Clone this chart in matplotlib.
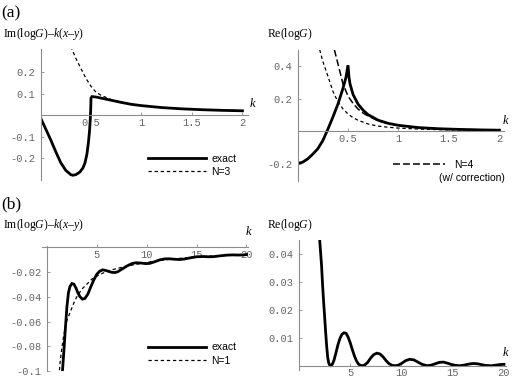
import matplotlib
matplotlib.use('Agg')
import matplotlib.pyplot as plt
from matplotlib.lines import Line2D

plt.rcParams['axes.unicode_minus'] = False
plt.rcParams['lines.scale_dashes'] = False
plt.rcParams['mathtext.fontset'] = 'custom'
plt.rcParams['mathtext.rm'] = 'Liberation Serif'
plt.rcParams['mathtext.it'] = 'Liberation Serif:italic'

# (a) left: Im(logG) - k(x-y)
a_im_k = [0.0, 0.05, 0.1, 0.15, 0.2, 0.25, 0.3, 0.32, 0.35, 0.39, 0.42, 0.44, 0.46, 0.475,
          0.485, 0.493, 0.498, 0.5, 0.51, 0.55, 0.6, 0.7, 0.8, 0.9, 1.0, 1.2, 1.4, 1.6, 1.8, 2.0]
a_im_exact = [-0.011, -0.062, -0.113, -0.168, -0.220, -0.256, -0.276, -0.279, -0.276, -0.264,
              -0.245, -0.222, -0.180, -0.125, -0.075, -0.020, 0.040, 0.080, 0.087, 0.085,
              0.080, 0.070, 0.060, 0.051, 0.045, 0.036, 0.030, 0.026, 0.023, 0.021]
a_im_n3_k = [0.3, 0.35, 0.4, 0.45, 0.5, 0.55, 0.6, 0.65, 0.7, 0.8, 0.9, 1.0, 1.2, 1.5, 2.0]
a_im_n3 = [0.32, 0.265, 0.218, 0.172, 0.135, 0.107, 0.093, 0.083, 0.073, 0.061, 0.052, 0.045,
           0.036, 0.028, 0.021]

# (a) right: Re(logG)
a_re_k = [0.0, 0.05, 0.1, 0.15, 0.2, 0.25, 0.3, 0.35, 0.4, 0.45, 0.48, 0.5, 0.51, 0.52, 0.55,
          0.6, 0.65, 0.7, 0.8, 0.9, 1.0, 1.2, 1.4, 1.6, 1.8, 2.0]
a_re_exact = [-0.200, -0.192, -0.172, -0.143, -0.110, -0.060, 0.010, 0.085, 0.165, 0.262, 0.330,
              0.405, 0.330, 0.290, 0.225, 0.165, 0.128, 0.100, 0.066, 0.047, 0.035, 0.021, 0.014,
              0.010, 0.007, 0.005]
a_re_n3_k = [0.22, 0.25, 0.3, 0.35, 0.4, 0.45, 0.5, 0.55, 0.6, 0.7, 0.8, 0.9, 1.0, 1.2, 1.5, 2.0]
a_re_n3 = [0.50, 0.43, 0.34, 0.245, 0.18, 0.136, 0.105, 0.082, 0.066, 0.043, 0.030, 0.023, 0.018,
           0.012, 0.007, 0.004]
a_re_n4_k = [0.365, 0.4, 0.45, 0.5, 0.55, 0.6, 0.65, 0.7, 0.8, 0.9, 1.0, 1.2, 1.5, 2.0]
a_re_n4 = [0.50, 0.415, 0.29, 0.215, 0.17, 0.135, 0.11, 0.092, 0.063, 0.046, 0.034, 0.020, 0.011,
           0.005]

# (b) left: Im(logG) - k(x-y), large k
b_im_k = [1.5, 1.55, 1.7, 1.85, 2.0, 2.15, 2.3, 2.5, 2.7, 2.9, 3.1, 3.3, 3.55, 3.8, 4.1, 4.4, 4.7,
          5.0, 5.3, 5.6, 5.9, 6.2, 6.5, 6.8, 7.1, 7.5, 8.0, 8.5, 8.9, 9.4, 9.9, 10.3, 10.8, 11.3,
          11.8, 12.3, 12.8, 13.3, 13.8, 14.4, 15.0, 15.6, 16.2, 16.7, 17.3, 18.0, 18.6, 19.2,
          19.7, 20.0]
b_im_exact = [-0.106, -0.100, -0.083, -0.065, -0.048, -0.037, -0.032, -0.0295, -0.030, -0.033,
              -0.037, -0.040, -0.042, -0.0415, -0.038, -0.032, -0.0265, -0.022, -0.0195, -0.0185,
              -0.019, -0.0198, -0.0205, -0.0207, -0.020, -0.018, -0.0155, -0.0135, -0.0128,
              -0.013, -0.0135, -0.0133, -0.012, -0.0105, -0.0097, -0.0096, -0.0100, -0.0102,
              -0.0098, -0.0088, -0.0080, -0.0078, -0.0080, -0.0079, -0.0073, -0.0067, -0.0065,
              -0.0066, -0.0065, -0.0062]
b_im_n1_k = [1.2, 1.3, 1.45, 1.6, 1.8, 2.0, 2.25, 2.5, 2.75, 3.0, 3.5, 4.0, 4.5, 5.0, 5.5, 6.0,
             6.5, 7.0, 8.0, 9.0, 10.0, 11.0, 12.0, 13.0, 14.0, 15.0, 16.0, 17.0, 18.0, 19.0, 20.0]
b_im_n1 = [-0.104, -0.094, -0.084, -0.075, -0.066, -0.059, -0.054, -0.049, -0.044, -0.040,
           -0.034, -0.030, -0.026, -0.0235, -0.0215, -0.0198, -0.0185, -0.0175, -0.0155, -0.014,
           -0.0125, -0.0113, -0.0103, -0.0095, -0.0088, -0.0082, -0.0077, -0.0073, -0.0069,
           -0.0066, -0.0062]

# (b) right: Re(logG), large k
b_re_k = [2.0, 2.1, 2.2, 2.3, 2.4, 2.5, 2.6, 2.7, 2.8, 2.9, 3.0, 3.1, 3.25, 3.4, 3.6, 3.8, 4.0,
          4.2, 4.4, 4.6, 4.8, 5.0, 5.2, 5.4, 5.6, 5.8, 6.0, 6.2, 6.4, 6.7, 7.0, 7.3, 7.6, 7.9, 8.2,
          8.5, 8.8, 9.1, 9.4, 9.7, 10.0, 10.4, 10.8, 11.2, 11.6, 12.0, 12.5, 12.9, 13.3, 13.7,
          14.1, 14.5, 14.9, 15.3, 15.7, 16.1, 16.6, 17.0, 17.4, 17.8, 18.2, 18.8, 19.2, 19.6, 20.0]
b_re_exact = [0.046, 0.041, 0.036, 0.029, 0.023, 0.0176, 0.012, 0.007, 0.003, 0.001, 0.0002, 0.0,
              0.0005, 0.0018, 0.0045, 0.0075, 0.0098, 0.0113, 0.0118, 0.0116, 0.0102, 0.0082,
              0.0058, 0.0036, 0.0018, 0.0006, 0.0001, 0.0, 0.0002, 0.0012, 0.0028, 0.0040, 0.0045,
              0.0042, 0.0032, 0.0018, 0.0007, 0.0001, 0.0, 0.0002, 0.0008, 0.0018, 0.0023, 0.0021,
              0.0013, 0.0005, 0.0, 0.0002, 0.0007, 0.0012, 0.0013, 0.0009, 0.0004, 0.0001, 0.0,
              0.0002, 0.0006, 0.0008, 0.0007, 0.0004, 0.0001, 0.0, 0.0002, 0.0004, 0.0005]

W, H = 521, 385
AXIS_GREY = '#8c8c8c'
TICK_GREY = '#666666'
SERIF = 'Liberation Serif'
MONO = 'Liberation Mono'
SANS = 'Liberation Sans'

solid = dict(color='black', lw=2.0, solid_joinstyle='miter')
dotted = dict(color='black', lw=0.9, linestyle=(0, (2.4, 2.0)))
dashed = dict(color='black', lw=1.1, linestyle=(0, (5.0, 2.2)))


def box(x0, x1, y0, y1):
    # pixel box (origin top left) -> figure fraction
    return [x0 / W, 1 - y1 / H, (x1 - x0) / W, (y1 - y0) / H]


def fx(x):
    return x / W


def fy(y):
    return 1 - y / H


def mathematica_axes(ax, xticks, xlabels, yticks, ylabels):
    for s in ['top', 'right']:
        ax.spines[s].set_visible(False)
    for s in ['left', 'bottom']:
        ax.spines[s].set_position(('data', 0))
        ax.spines[s].set_color(AXIS_GREY)
        ax.spines[s].set_linewidth(0.8)
    ax.set_xticks(xticks, xlabels)
    ax.set_yticks(yticks, ylabels)
    ax.tick_params(direction='in', length=2.5, width=0.6, color=AXIS_GREY,
                   labelcolor=TICK_GREY, labelsize=7.5, pad=2)
    ax.tick_params(axis='y', pad=4)
    for lab in ax.get_xticklabels() + ax.get_yticklabels():
        lab.set_family(MONO)
    ax.patch.set_visible(False)


fig = plt.figure(figsize=(W / 100, H / 100), dpi=100)

im_label = r'$\mathrm{Im(log}G\mathrm{)–}k(x\mathrm{–}y)$'
re_label = r'$\mathrm{Re(log}G\mathrm{)}$'

# ---- (a) left
ax1 = fig.add_axes(box(40.5, 247.5, 49.3, 179.8))
ax1.plot(a_im_n3_k, a_im_n3, **dotted)
ax1.plot(a_im_k, a_im_exact, **solid)
ax1.set_xlim(0, 2.05)
ax1.set_ylim(-0.30, 0.307)
mathematica_axes(ax1, [0.5, 1, 1.5, 2], ['0.5', '1', '1.5', '2'],
                 [-0.2, -0.1, 0.1, 0.2], ['-0.2', '-0.1', '0.1', '0.2'])
ax1.legend([Line2D([], [], **solid), Line2D([], [], **dotted)], ['exact', 'N=3'],
           loc='center left', bbox_to_anchor=(fx(148), fy(165.5)), bbox_transform=fig.transFigure,
           frameon=False, handlelength=5.6, handletextpad=0.5, labelspacing=0.3,
           borderpad=0, borderaxespad=0, prop={'family': SANS, 'size': 7.5})

# ---- (a) right
ax2 = fig.add_axes(box(297.5, 504.5, 49.75, 181.4))
ax2.plot(a_re_n3_k, a_re_n3, **dotted)
ax2.plot(a_re_n4_k, a_re_n4, **dashed)
ax2.plot(a_re_k, a_re_exact, **solid)
ax2.set_xlim(0, 2.05)
ax2.set_ylim(-0.31, 0.5)
mathematica_axes(ax2, [0.5, 1, 1.5, 2], ['0.5', '1', '1.5', '2'],
                 [-0.2, 0.2, 0.4], ['-0.2', '0.2', '0.4'])
ax2.legend([Line2D([], [], **dashed)], ['N=4'],
           loc='center left', bbox_to_anchor=(fx(393), fy(165)), bbox_transform=fig.transFigure,
           frameon=False, handlelength=5.0, handletextpad=0.9,
           borderpad=0, borderaxespad=0, prop={'family': SANS, 'size': 7.5})
fig.text(fx(505), fy(178), '(w/ correction)', family=SANS, fontsize=7.5, ha='right', va='center')

# ---- (b) left
ax3 = fig.add_axes(box(42, 248.4, 246.2, 371.3))
ax3.plot(b_im_n1_k, b_im_n1, **dotted)
ax3.plot(b_im_k, b_im_exact, **solid)
ax3.set_xlim(-0.5, 20.2)
ax3.set_ylim(-0.1, 0.0005)
mathematica_axes(ax3, [5, 10, 15, 20], ['5', '10', '15', '20'],
                 [-0.1, -0.08, -0.06, -0.04, -0.02], ['-0.1', '-0.08', '-0.06', '-0.04', '-0.02'])
ax3.legend([Line2D([], [], **solid), Line2D([], [], **dotted)], ['exact', 'N=1'],
           loc='center left', bbox_to_anchor=(fx(148), fy(354)), bbox_transform=fig.transFigure,
           frameon=False, handlelength=5.6, handletextpad=0.5, labelspacing=0.3,
           borderpad=0, borderaxespad=0, prop={'family': SANS, 'size': 7.5})

# ---- (b) right
ax4 = fig.add_axes(box(299, 506, 240.1, 369.9))
ax4.plot(b_re_k, b_re_exact, **solid)
ax4.set_xlim(0, 20.2)
ax4.set_ylim(-0.0015, 0.045)
mathematica_axes(ax4, [5, 10, 15, 20], ['5', '10', '15', '20'],
                 [0.01, 0.02, 0.03, 0.04], ['0.01', '0.02', '0.03', '0.04'])

# panel tags, axis titles and k labels
fig.text(fx(1), fy(13), '(a)', family=SERIF, fontsize=12.5, va='center')
fig.text(fx(1), fy(204), '(b)', family=SERIF, fontsize=12.5, va='center')
fig.text(fx(3), fy(34), im_label, fontsize=8.5, va='center')
fig.text(fx(267), fy(34), re_label, fontsize=8.5, va='center')
fig.text(fx(3), fy(225), im_label, fontsize=8.5, va='center')
fig.text(fx(267), fy(225), re_label, fontsize=8.5, va='center')
for x, y in [(252, 104), (505, 121), (248, 232), (505, 353)]:
    fig.text(fx(x), fy(y), 'k', family=SERIF, style='italic', fontsize=9, ha='center', va='center')

fig.savefig('out.png', dpi=100, facecolor='white')
